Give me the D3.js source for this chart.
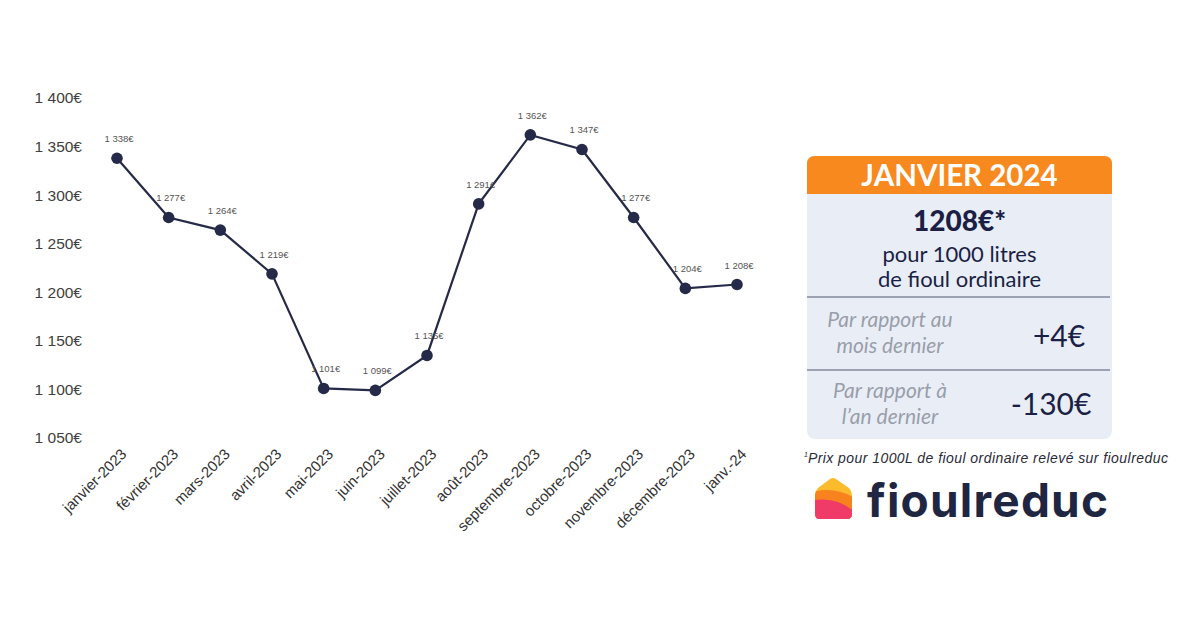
<!DOCTYPE html>
<html><head><meta charset="utf-8">
<script src="https://cdn.jsdelivr.net/npm/d3@7"></script>
<style>body{margin:0;background:#fff}svg{display:block}</style>
</head><body>
<svg id="c" width="1200" height="627"></svg>
<script>
const months = ["janvier-2023","février-2023","mars-2023","avril-2023","mai-2023","juin-2023","juillet-2023","août-2023","septembre-2023","octobre-2023","novembre-2023","décembre-2023","janv.-24"];
const prices = [1338,1277,1264,1219,1101,1099,1135,1291,1362,1347,1277,1204,1208];
const yTicks = [1050,1100,1150,1200,1250,1300,1350,1400];
const panelTitle = "JANVIER 2024";
const panelPrice = "1208€*";
const panelSub = ["pour 1000 litres","de fioul ordinaire"];
const compareLabels = [["Par rapport au","mois dernier"],["Par rapport à","l’an dernier"]];
const compareValues = ["+4€","-130€"];
const footnote = "Prix pour 1000L de fioul ordinaire relevé sur fioulreduc";

const svg = d3.select("#c");
const navy = "#252a48";
const fmt = v => d3.format(",")(v).replace(/,/g," ") + "€";

const x = d3.scalePoint().domain(months).range([117,737]);
const y = d3.scaleLinear().domain([1050,1400]).range([438,98]);

// Y axis (no line, no ticks)
const ya = svg.append("g").attr("transform","translate(82,0)")
  .call(d3.axisLeft(y).tickValues(yTicks).tickSize(0).tickPadding(0).tickFormat(fmt));
ya.select(".domain").remove();
ya.selectAll("text").attr("font-family","Arial, 'Liberation Sans', sans-serif").attr("font-size",15.5).attr("fill","#404040");

// X axis
const xa = svg.append("g").attr("transform","translate(0,446)")
  .call(d3.axisBottom(x).tickSize(0).tickPadding(0));
xa.select(".domain").remove();
xa.selectAll("text")
  .attr("font-family","Arial, 'Liberation Sans', sans-serif").attr("font-size",15).attr("fill","#333")
  .attr("text-anchor","end").attr("dy",0).attr("dx",0)
  .attr("transform","translate(10,9) rotate(-45)");

// Line
const line = d3.line().x((d,i)=>x(months[i])).y(d=>y(d));
svg.append("path").datum(prices).attr("d",line).attr("fill","none").attr("stroke",navy).attr("stroke-width",2.2);
svg.selectAll("circle.pt").data(prices).join("circle").attr("class","pt")
  .attr("cx",(d,i)=>x(months[i])).attr("cy",d=>y(d)).attr("r",5.8).attr("fill",navy);
svg.selectAll("text.lbl").data(prices).join("text").attr("class","lbl")
  .attr("x",(d,i)=>x(months[i])+2).attr("y",d=>y(d)-16)
  .attr("text-anchor","middle").attr("font-family","Arial, 'Liberation Sans', sans-serif")
  .attr("font-size",9.5).attr("fill","#555").text(d=>fmt(d));

// Panel
const px=807, pw=305, py=156, ph=283, hh=38, r=8;
const lato = "Lato, 'Open Sans', sans-serif";
const p = svg.append("g");
p.append("rect").attr("x",px).attr("y",py).attr("width",pw).attr("height",ph).attr("rx",r).attr("fill","#e9eef6");
p.append("path").attr("d",`M${px},${py+hh} V${py+r} Q${px},${py} ${px+r},${py} H${px+pw-r} Q${px+pw},${py} ${px+pw},${py+r} V${py+hh} Z`).attr("fill","#f7891f");
p.append("text").attr("x",px+pw/2).attr("y",py+30).attr("text-anchor","middle").attr("font-family",lato)
  .attr("font-weight",700).attr("font-size",29.5).attr("fill","#fff").text(panelTitle);
p.append("text").attr("x",px+pw/2).attr("y",231).attr("text-anchor","middle").attr("font-family",lato)
  .attr("font-weight",900).attr("font-size",28).attr("fill","#1b1f45").text(panelPrice);
panelSub.forEach((s,i)=>p.append("text").attr("x",px+pw/2).attr("y",262+i*25).attr("text-anchor","middle")
  .attr("font-family",lato).attr("font-size",22).attr("fill","#1b1f45").text(s));
[297,370].forEach(yy=>p.append("line").attr("x1",px).attr("x2",px+pw-2).attr("y1",yy).attr("y2",yy).attr("stroke","#9da2b3").attr("stroke-width",2));
const labY = [[327,353],[398,424]];
const valX = [1059,1051], valY = [347,415];
compareLabels.forEach((ls,k)=>{
  ls.forEach((s,i)=>p.append("text").attr("x",890).attr("y",labY[k][i]).attr("text-anchor","middle")
    .attr("font-family",lato).attr("font-style","italic").attr("font-size",21).attr("fill","#999eaa").text(s));
  p.append("text").attr("x",valX[k]).attr("y",valY[k]).attr("text-anchor","middle")
    .attr("font-family",lato).attr("font-size",30).attr("fill","#1b1f45").text(compareValues[k]);
});

// Footnote
const fn = svg.append("text").attr("x",804).attr("y",463).attr("font-family","Arial, 'Liberation Sans', sans-serif")
  .attr("font-style","italic").attr("font-size",14).attr("fill","#2a2a3a");
fn.append("tspan").attr("font-size",7).attr("dy",-6).text("1");
fn.append("tspan").attr("dy",6).attr("textLength",360).text(footnote);

// Logo
const lg = svg.append("g");
const defs = svg.append("defs");
defs.append("clipPath").attr("id","house").append("path")
  .attr("d","M815,495 Q815,491 818,488 L830,479 Q833,477 836,479 L849,488 Q852,491 852,495 L852,514 Q852,519 847,519 L820,519 Q815,519 815,514 Z");
const hg = lg.append("g").attr("clip-path","url(#house)");
hg.append("rect").attr("x",810).attr("y",474).attr("width",46).attr("height",50).attr("fill","#fbbb2c");
hg.append("path").attr("d","M810,493 Q834,485 856,499 L856,524 L810,524 Z").attr("fill","#f7821e");
hg.append("path").attr("d","M810,501 Q836,495 856,513 L856,524 L810,524 Z").attr("fill","#f03a67");
lg.append("text").attr("x",867).attr("y",517).attr("font-family","Inter, 'Open Sans', sans-serif")
  .attr("font-weight",700).attr("font-size",46).attr("fill","#1f2642").attr("textLength",241).text("fioulreduc");
</script>
</body></html>
